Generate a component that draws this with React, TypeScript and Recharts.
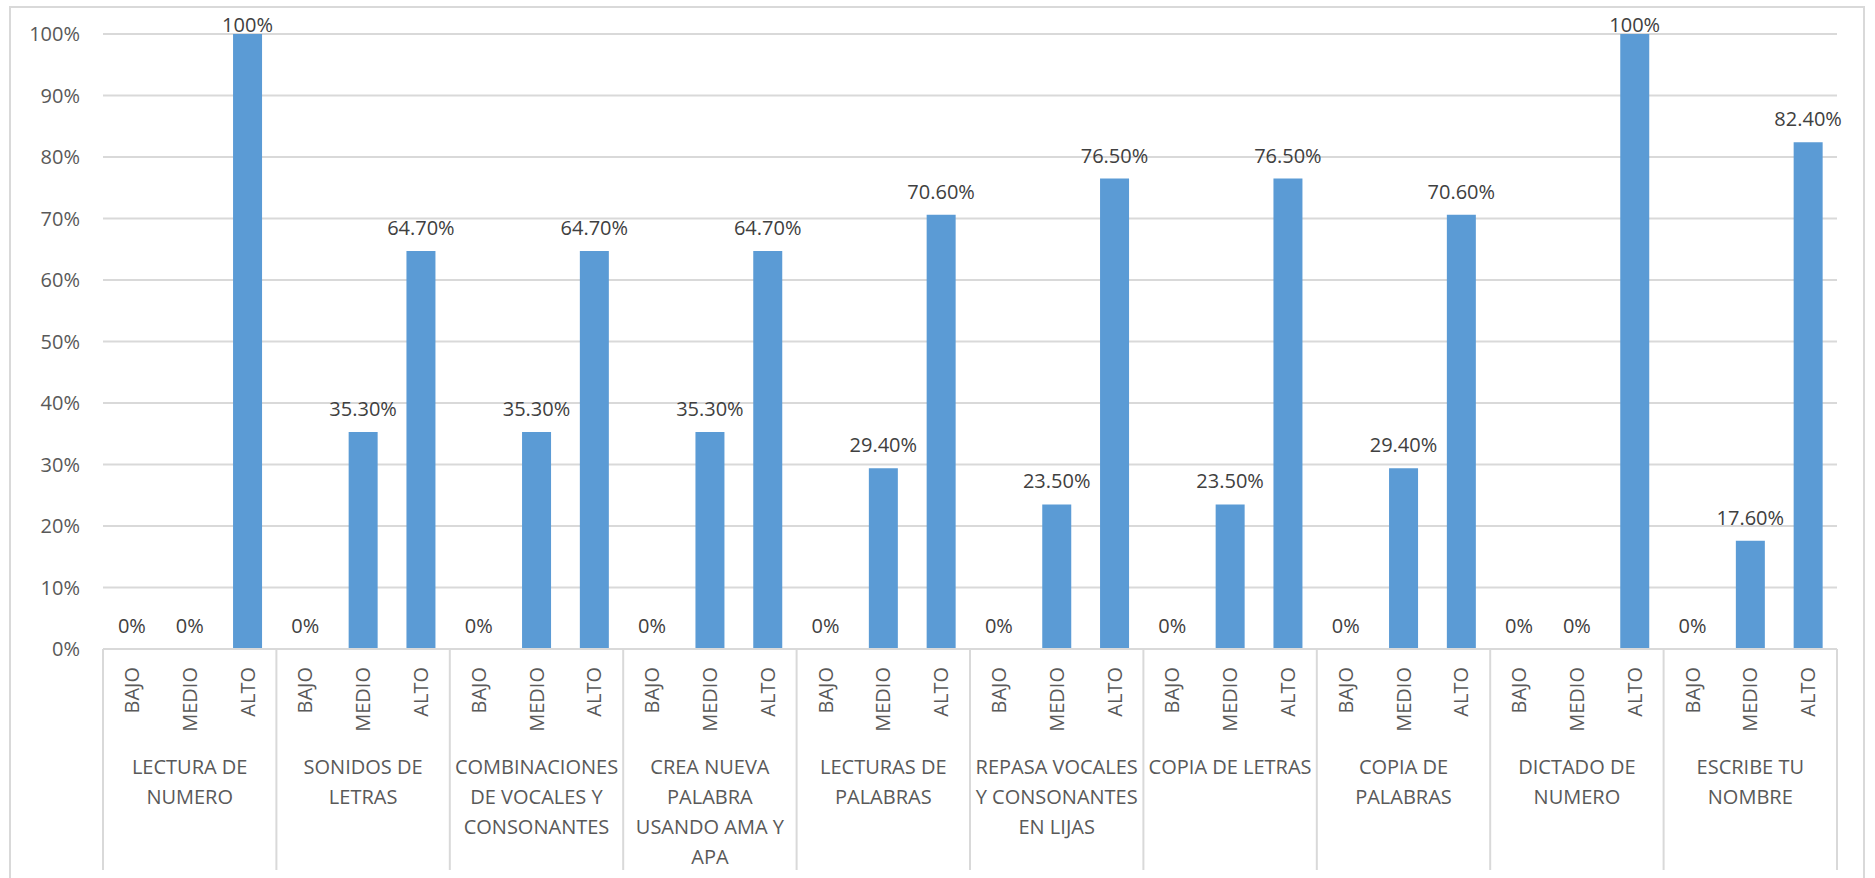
import { ComposedChart, Bar, Line, XAxis, YAxis, CartesianGrid, LabelList } from 'recharts';

const groups = [
  'LECTURA DE\nNUMERO',
  'SONIDOS DE\nLETRAS',
  'COMBINACIONES\nDE VOCALES Y\nCONSONANTES',
  'CREA NUEVA\nPALABRA\nUSANDO AMA Y\nAPA',
  'LECTURAS DE\nPALABRAS',
  'REPASA VOCALES\nY CONSONANTES\nEN LIJAS',
  'COPIA DE LETRAS',
  'COPIA DE\nPALABRAS',
  'DICTADO DE\nNUMERO',
  'ESCRIBE TU\nNOMBRE',
];
const levels = ['BAJO', 'MEDIO', 'ALTO'];
const bajo = [0, 0, 0, 0, 0, 0, 0, 0, 0, 0];
const medio = [0, 35.3, 35.3, 35.3, 29.4, 23.5, 23.5, 29.4, 0, 17.6];
const alto = [100, 64.7, 64.7, 64.7, 70.6, 76.5, 76.5, 70.6, 100, 82.4];
const yTicks = [0, 10, 20, 30, 40, 50, 60, 70, 80, 90, 100];

const series = [bajo, medio, alto];
const data = groups.flatMap((g, gi) =>
  levels.map((lv, li) => ({ key: `${gi}-${li}`, group: g, level: lv, index: li, value: series[li][gi] }))
);

const FONT = '"Open Sans", "Segoe UI", sans-serif';
const TEXT = '#595959';
const GRID = '#d9d9d9';
const TOP = 34;

const fmtPct = (v: number) => (v === 0 || v === 100 ? `${v}%` : `${v.toFixed(2)}%`);

function CategoryTick(props: any) {
  const { x, y, payload, width } = props;
  const i = payload.index;
  const d = data[i];
  const band = width / data.length;
  const lines = d.group.split('\n');
  return (
    <g>
      <text
        x={x}
        y={y + 18}
        transform={`rotate(-90, ${x}, ${y + 18})`}
        textAnchor="end"
        dy="0.35em"
        fill={TEXT}
        fontSize={20}
        fontFamily={FONT}
      >
        {d.level}
      </text>
      {d.index === 0 && (
        <line x1={x - band / 2} x2={x - band / 2} y1={y} y2={y + 221} stroke={GRID} strokeWidth={2} />
      )}
      {i === data.length - 1 && (
        <line x1={x + band / 2} x2={x + band / 2} y1={y} y2={y + 221} stroke={GRID} strokeWidth={2} />
      )}
      {d.index === 1 && (
        <text x={x} y={y + 118} textAnchor="middle" fill={TEXT} fontSize={20} fontFamily={FONT}>
          {lines.map((ln: string, k: number) => (
            <tspan key={k} x={x} dy={k === 0 ? '0.35em' : 30}>
              {ln}
            </tspan>
          ))}
        </text>
      )}
    </g>
  );
}

function ValueLabel(props: any) {
  const { x, y, width, value } = props;
  const ty = Math.max(y - 16, TOP - 2);
  return (
    <text x={x + (width || 0) / 2} y={ty} textAnchor="middle" fill="#404040" fontSize={20} fontFamily={FONT}>
      {fmtPct(value)}
    </text>
  );
}

export default function App() {
  return (
    <div style={{ position: 'absolute', left: 0, top: 0, width: 1875, height: 878, overflow: 'hidden', background: '#fff' }}>
      <div
        style={{ position: 'absolute', left: 9, top: 6, width: 1856, height: 900, border: `2px solid ${GRID}`, boxSizing: 'border-box' }}
      />
      <div style={{ position: 'absolute', left: 0, top: 0 }}>
        <ComposedChart
          width={1875}
          height={878}
          data={data}
          margin={{ top: TOP, right: 38, bottom: 0, left: 0 }}
          barCategoryGap="25%"
        >
          <CartesianGrid vertical={false} stroke={GRID} strokeWidth={2} />
          <XAxis
            dataKey="key"
            interval={0}
            height={229}
            tickSize={0}
            tickMargin={0}
            tickLine={false}
            axisLine={{ stroke: GRID, strokeWidth: 2 }}
            tick={<CategoryTick />}
          />
          <YAxis
            width={103}
            domain={[0, 100]}
            ticks={yTicks}
            tickFormatter={(v: number) => `${v}%`}
            tickSize={0}
            tickMargin={23}
            tickLine={false}
            axisLine={false}
            tick={{ fill: TEXT, fontSize: 20, fontFamily: FONT }}
          />
          <Bar dataKey="value" fill="#5b9bd5" isAnimationActive={false} />
          <Line
            dataKey="value"
            stroke="none"
            dot={false}
            activeDot={false}
            legendType="none"
            isAnimationActive={false}
          >
            <LabelList dataKey="value" content={<ValueLabel />} />
          </Line>
        </ComposedChart>
      </div>
    </div>
  );
}
